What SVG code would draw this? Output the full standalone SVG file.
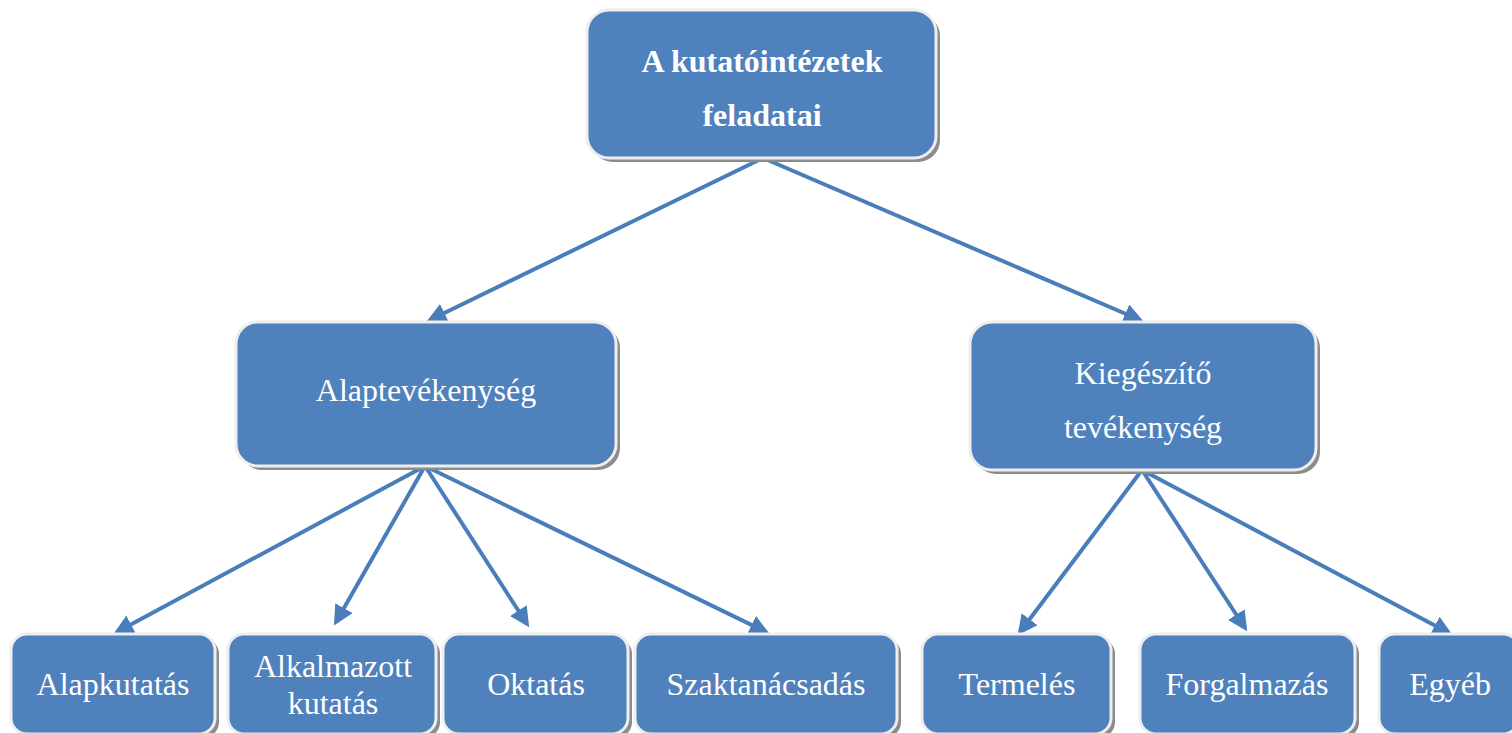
<svg xmlns="http://www.w3.org/2000/svg" width="1512" height="733" viewBox="0 0 1512 733">
<defs>
<style>
.box{fill:#4F81BD;stroke:#EEEEEE;stroke-width:3}
.sh{fill:#8C8C8C}
.t{font-family:"Liberation Serif","Times New Roman",serif;font-size:32px;fill:#FFFFFF;text-anchor:middle}
.b{font-weight:bold}
.c{stroke:#4A7EBB;stroke-width:4;fill:none;marker-end:url(#ah)}
</style>
<marker id="ah" markerWidth="5" markerHeight="5" refX="4" refY="2.5" orient="auto" markerUnits="strokeWidth">
<path d="M0,0 L5,2.5 L0,5 z" fill="#4A7EBB"/>
</marker>
</defs>
<rect width="1512" height="733" fill="#FFFFFF"/>
<g id="connectors">
<line class="c" x1="763" y1="158" x2="430" y2="320"/>
<line class="c" x1="763" y1="158" x2="1140" y2="320"/>
<line class="c" x1="425" y1="466" x2="117" y2="632"/>
<line class="c" x1="425" y1="466" x2="336" y2="622"/>
<line class="c" x1="425" y1="466" x2="527" y2="624"/>
<line class="c" x1="425" y1="466" x2="766" y2="632"/>
<line class="c" x1="1142" y1="470" x2="1020" y2="632"/>
<line class="c" x1="1142" y1="470" x2="1245" y2="628"/>
<line class="c" x1="1142" y1="470" x2="1449" y2="633"/>
</g>
<g id="n-root">
<rect class="sh" x="591" y="14" width="349" height="148" rx="22"/>
<rect class="box" x="587" y="10" width="349" height="148" rx="22"/>
<text class="t b" x="762" y="72">A kutatóintézetek</text>
<text class="t b" x="762" y="126">feladatai</text>
</g>
<g id="n-alap">
<rect class="sh" x="240" y="326" width="380" height="144" rx="22"/>
<rect class="box" x="236" y="322" width="380" height="144" rx="22"/>
<text class="t" x="426" y="401">Alaptevékenység</text>
</g>
<g id="n-kieg">
<rect class="sh" x="974" y="326" width="346" height="148" rx="22"/>
<rect class="box" x="970" y="322" width="346" height="148" rx="22"/>
<text class="t" x="1143" y="384">Kiegészítő</text>
<text class="t" x="1143" y="438">tevékenység</text>
</g>
<g id="n-alapkutatas">
<rect class="sh" x="15" y="638" width="204" height="100" rx="16"/>
<rect class="box" x="11" y="634" width="204" height="100" rx="16"/>
<text class="t" x="113" y="695">Alapkutatás</text>
</g>
<g id="n-alkalmazott">
<rect class="sh" x="232" y="638" width="208" height="100" rx="16"/>
<rect class="box" x="228" y="634" width="208" height="100" rx="16"/>
<text class="t" x="333" y="677">Alkalmazott</text>
<text class="t" x="333" y="714">kutatás</text>
</g>
<g id="n-oktatas">
<rect class="sh" x="447" y="638" width="185" height="100" rx="16"/>
<rect class="box" x="443" y="634" width="185" height="100" rx="16"/>
<text class="t" x="536" y="695">Oktatás</text>
</g>
<g id="n-szaktanacsadas">
<rect class="sh" x="639" y="638" width="262" height="100" rx="16"/>
<rect class="box" x="635" y="634" width="262" height="100" rx="16"/>
<text class="t" x="766" y="695">Szaktanácsadás</text>
</g>
<g id="n-termeles">
<rect class="sh" x="926" y="638" width="189" height="100" rx="16"/>
<rect class="box" x="922" y="634" width="189" height="100" rx="16"/>
<text class="t" x="1017" y="695">Termelés</text>
</g>
<g id="n-forgalmazas">
<rect class="sh" x="1144" y="638" width="215" height="100" rx="16"/>
<rect class="box" x="1140" y="634" width="215" height="100" rx="16"/>
<text class="t" x="1247" y="695">Forgalmazás</text>
</g>
<g id="n-egyeb">
<rect class="sh" x="1383" y="638" width="140" height="100" rx="16"/>
<rect class="box" x="1379" y="634" width="140" height="100" rx="16"/>
<text class="t" x="1450" y="695">Egyéb</text>
</g>
</svg>
